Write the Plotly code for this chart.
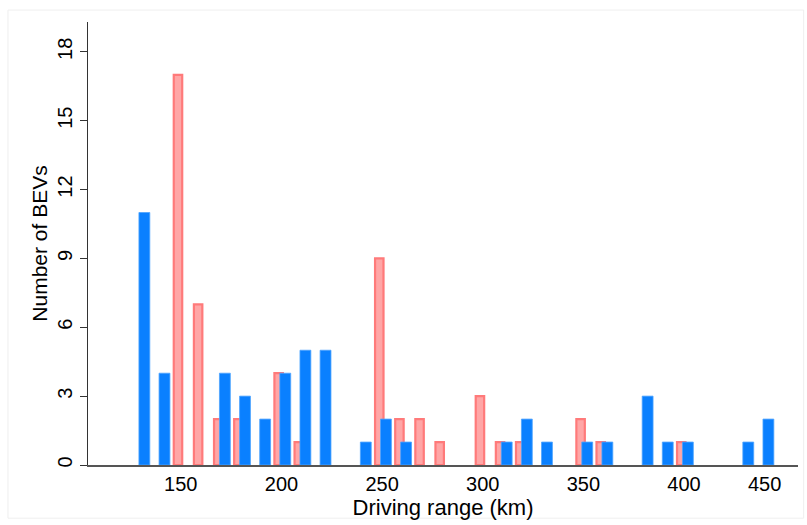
import plotly.graph_objects as go

# Data: driving-range bins (km) and number of BEVs
blue_range = [130, 140, 170, 180, 190, 200, 210, 220, 240, 250, 260, 310, 320, 330,
              350, 360, 380, 390, 400, 430, 440]
blue_count = [11, 4, 4, 3, 2, 4, 5, 5, 1, 2, 1, 1, 2, 1, 1, 1, 3, 1, 1, 1, 2]

red_range = [150, 160, 170, 180, 200, 210, 250, 260, 270, 280, 300, 310, 320, 350, 360, 400]
red_count = [17, 7, 2, 2, 4, 1, 9, 2, 2, 1, 3, 1, 1, 2, 1, 1]

x_tick_vals = [150, 200, 250, 300, 350, 400, 440]
x_tick_text = ["150", "200", "250", "300", "350", "400", "450"]
y_tick_vals = [0, 3, 6, 9, 12, 15, 18]

FONT = "Liberation Sans, Arial, Helvetica, sans-serif"

fig = go.Figure()

fig.add_trace(go.Bar(
    x=red_range, y=red_count,
    width=4.2, offset=-3.5,
    marker=dict(color="#FFA6A6", line=dict(color="#FF7A7A", width=2.2)),
    showlegend=False,
))
fig.add_trace(go.Bar(
    x=blue_range, y=blue_count,
    width=5.4, offset=-0.8,
    marker=dict(color="#0A80FF", line=dict(color="#4DA3FF", width=0.8)),
    showlegend=False,
))

fig.update_layout(
    width=807, height=525,
    margin=dict(l=88, r=9, t=22, b=60),
    barmode="overlay",
    paper_bgcolor="white",
    plot_bgcolor="white",
    font=dict(family=FONT, size=20, color="black"),
    xaxis=dict(
        range=[103.9, 456.6],
        tickmode="array", tickvals=x_tick_vals, ticktext=x_tick_text,
        ticks="", showgrid=False, zeroline=False,
        showline=True, linecolor="#555555", linewidth=2,
        tickfont=dict(size=20),
        title=dict(text="Driving range (km)", font=dict(size=22), standoff=4),
    ),
    yaxis=dict(
        range=[0, 19.3],
        tickmode="array", tickvals=y_tick_vals,
        ticks="outside", ticklen=7, tickcolor="#333333", tickwidth=1,
        tickangle=-90,
        showgrid=False, zeroline=False,
        showline=True, linecolor="#333333", linewidth=1.2,
        tickfont=dict(size=20),
        title=dict(text="Number of BEVs", font=dict(size=21), standoff=0),
    ),
    shapes=[dict(
        type="rect", xref="paper", yref="paper",
        x0=-0.1127, x1=1.008, y0=-0.12, y1=1.027,
        line=dict(color="#EFEFEF", width=1), layer="below",
    )],
)

fig.write_html("out.html")
